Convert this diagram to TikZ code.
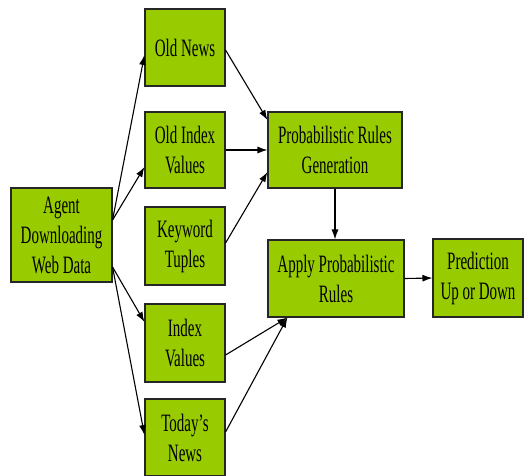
\documentclass[tikz,border=0pt]{standalone}
\usepackage{fontspec}
\setmainfont[FakeStretch=0.6]{Liberation Serif}
\usetikzlibrary{arrows.meta}
\definecolor{boxgreen}{RGB}{153,204,0}
\begin{document}
\begin{tikzpicture}[x=1pt,y=-1pt,
  box/.style={draw=black!85,line width=1.1pt,fill=boxgreen,inner sep=0pt,align=center,
    font=\fontsize{25}{30}\selectfont},
  arr/.style={line width=1.1pt,-{Latex[length=10pt,width=7pt]}}]
\useasboundingbox (0,0) rectangle (525,475);
\node[box,minimum width=101pt,minimum height=94pt] (agent) at (61.5,235) {Agent\\Downloading\\Web Data};
\node[box,minimum width=80pt,minimum height=77pt] (oldnews) at (185,47.5) {Old News};
\node[box,minimum width=80pt,minimum height=76pt] (oldindex) at (185,150) {Old Index\\Values};
\node[box,minimum width=80pt,minimum height=78pt] (keyword) at (185,246) {Keyword\\Tuples};
\node[box,minimum width=80pt,minimum height=78pt] (indexval) at (185,343) {Index\\Values};
\node[box,minimum width=80pt,minimum height=77pt] (today) at (185,437.5) {Today’s\\News};
\node[box,minimum width=134pt,minimum height=76pt] (prg) at (335,150) {Probabilistic Rules\\Generation};
\node[box,minimum width=136pt,minimum height=77pt] (apply) at (336,278.5) {Apply Probabilistic\\Rules};
\node[box,minimum width=90pt,minimum height=78pt] (pred) at (478,278) {Prediction\\Up or Down};
\draw[arr] ([yshift=15pt]agent.east) -- ([yshift=-7.5pt]oldnews.west);
\draw[arr] ([yshift=15pt]agent.east) -- ([yshift=-17pt]oldindex.west);
\draw[arr] ([yshift=-32pt]agent.east) -- ([yshift=21pt]indexval.west);
\draw[arr] ([yshift=-32pt]agent.east) -- ([yshift=2.5pt]today.west);
\draw[arr] ([yshift=-2.5pt]oldnews.east) -- ([yshift=30pt]prg.west);
\draw[arr] (oldindex.east) -- (prg.west);
\draw[arr] ([yshift=3pt]keyword.east) -- ([yshift=-22pt]prg.west);
\draw[arr] (prg.south) -- (prg.south |- apply.north);
\draw[arr] ([yshift=-12pt]indexval.east) -- ([xshift=20pt]apply.south west);
\draw[arr] ([yshift=5.5pt]today.east) -- ([xshift=20pt]apply.south west);
\draw[arr] (apply.east) -- (pred.west);
\end{tikzpicture}
\end{document}
